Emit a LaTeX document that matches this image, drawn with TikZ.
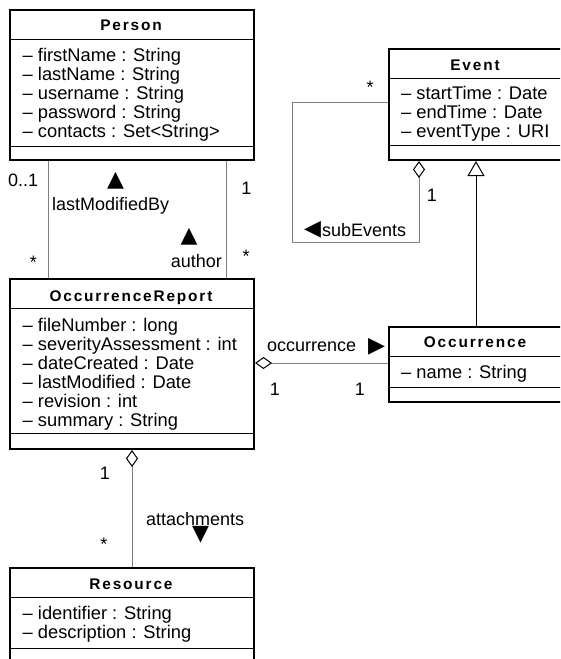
\documentclass[tikz,border=0pt]{standalone}
\usepackage{fontspec}
\setmainfont{Liberation Sans}
\newfontfamily\symfont{DejaVu Sans}
\newfontfamily\titlefont[LetterSpace=12]{Liberation Sans}
\usetikzlibrary{arrows.meta}
\tikzset{
  classbox/.style={draw=black, line width=2pt, inner sep=0pt, anchor=north west, fill=white},
  sepline/.style={draw=black, line width=1pt},
  ctitle/.style={inner sep=0pt, anchor=base, font=\titlefont\bfseries\fontsize{15.4}{18}\selectfont},
  attr/.style={inner sep=0pt, anchor=base west, font=\fontsize{18.3}{19}\selectfont},
  lbl/.style={inner sep=0pt, font=\fontsize{18}{20}\selectfont},
  tri/.style={inner sep=0pt, anchor=center, font=\symfont\fontsize{22}{22}\selectfont},
  assoc/.style={draw=black!50, line width=1pt},
  agg/.style={assoc, -{Diamond[open, color=black, length=17pt, width=12pt, line width=1pt]}},
  gen/.style={draw=black, line width=1pt, -{Triangle[open, length=15pt, width=17pt, line width=1pt]}},
}
\begin{document}
\begin{tikzpicture}[x=1pt, y=-1pt]
\useasboundingbox (0,0) rectangle (560,659);
\clip (0,0) rectangle (560,659);
\fill[white] (0,0) rectangle (560,659);

% ---------- Person ----------
\node[classbox, minimum width=244pt, minimum height=150pt] (person) at (9,9) {};
\draw[sepline] ([yshift=-30pt]person.north west) -- ([yshift=-30pt]person.north east);
\draw[sepline] ([yshift=-137pt]person.north west) -- ([yshift=-137pt]person.north east);
\node[ctitle] (persontitle) at (131,30.5) {Person};
\foreach \t [count=\i] in {– firstName : String, – lastName : String, – username : String, – password : String, – contacts : Set<String>}
  \node[attr] (pa\i) at (22.5,{61.5+19*(\i-1)}) {\t};

% ---------- Event ----------
\node[classbox, minimum width=174pt, minimum height=111pt] (event) at (388,48) {};
\draw[sepline] ([yshift=-30pt]event.north west) -- ([yshift=-30pt]event.north east);
\draw[sepline] ([yshift=-97pt]event.north west) -- ([yshift=-97pt]event.north east);
\node[ctitle] (eventtitle) at (475,70.5) {Event};
\foreach \t [count=\i] in {– startTime : Date, – endTime : Date, – eventType : URI}
  \node[attr] (ea\i) at (401,{99.5+19*(\i-1)}) {\t};

% ---------- OccurrenceReport ----------
\node[classbox, minimum width=244pt, minimum height=170pt] (report) at (9,278) {};
\draw[sepline] ([yshift=-30pt]report.north west) -- ([yshift=-30pt]report.north east);
\draw[sepline] ([yshift=-155pt]report.north west) -- ([yshift=-155pt]report.north east);
\node[ctitle] (reporttitle) at (131,301.5) {OccurrenceReport};
\foreach \t [count=\i] in {– fileNumber : long, – severityAssessment : int, – dateCreated : Date, – lastModified : Date, – revision : int, – summary : String}
  \node[attr] (ra\i) at (22.5,{331.5+19*(\i-1)}) {\t};

% ---------- Occurrence ----------
\node[classbox, minimum width=174pt, minimum height=75pt] (occ) at (388,326) {};
\draw[sepline] ([yshift=-30pt]occ.north west) -- ([yshift=-30pt]occ.north east);
\draw[sepline] ([yshift=-61pt]occ.north west) -- ([yshift=-61pt]occ.north east);
\node[ctitle] (occtitle) at (475,347.5) {Occurrence};
\node[attr] (oa1) at (401,378.5) {– name : String};

% ---------- Resource ----------
\node[classbox, minimum width=244pt, minimum height=105pt] (res) at (9,567) {};
\draw[sepline] ([yshift=-30pt]res.north west) -- ([yshift=-30pt]res.north east);
\draw[sepline] ([yshift=-81pt]res.north west) -- ([yshift=-81pt]res.north east);
\node[ctitle] (restitle) at (131,589) {Resource};
\foreach \t [count=\i] in {– identifier : String, – description : String}
  \node[attr] (sa\i) at (22.5,{619.5+19*(\i-1)}) {\t};

% ---------- lastModifiedBy ----------
\draw[assoc] ([xshift=39pt]person.south west) -- ([xshift=39pt]report.north west);
\node[lbl, anchor=base west] (m01) at (8,186.5) {0..1};
\node[lbl, anchor=base] (mstar1) at (33.5,268) {*};
\node[tri] (tlm) at (115.5,181) {▲};
\node[lbl, anchor=base west] (llm) at (52,210) {lastModifiedBy};

% ---------- author ----------
\draw[assoc] ([xshift=217pt]person.south west) -- ([xshift=217pt]report.north west);
\node[lbl, anchor=base] (m1a) at (246.5,194.5) {1};
\node[lbl, anchor=base] (mstar2) at (246,262.5) {*};
\node[tri] (tau) at (189,237) {▲};
\node[lbl, anchor=base east] (lau) at (222,267) {author};

% ---------- subEvents ----------
\coordinate (loopA) at (292,242);
\draw[agg] ([yshift=-54pt]event.north west) -| (loopA) -| ([xshift=31pt]event.south west);
\node[lbl, anchor=base] (mstar3) at (370,93) {*};
\node[lbl, anchor=base] (m1b) at (432,201.4) {1};
\node[tri] (tse) at (312.5,230) {◀};
\node[lbl, anchor=base west] (lse) at (322,236) {subEvents};

% ---------- generalization ----------
\draw[gen] (occ.north) -- (event.south);

% ---------- occurrence ----------
\draw[agg] ([yshift=-37pt]occ.north west) -- ([yshift=-85pt]report.north east);
\node[lbl, anchor=base west] (loc) at (267,351.4) {occurrence};
\node[tri] (toc) at (376.5,347) {▶};
\node[lbl, anchor=base] (m1c) at (275,395.4) {1};
\node[lbl, anchor=base] (m1d) at (360,395.4) {1};

% ---------- attachments ----------
\draw[agg] ([xshift=123pt]res.north west) -- ([xshift=123pt]report.south west);
\node[lbl, anchor=base] (m1e) at (105,479.4) {1};
\node[lbl, anchor=base] (mstar4) at (104,550) {*};
\node[lbl, anchor=base west] (lat) at (146,525.5) {attachments};
\node[tri] (tat) at (200.5,535) {▼};
\end{tikzpicture}
\end{document}
